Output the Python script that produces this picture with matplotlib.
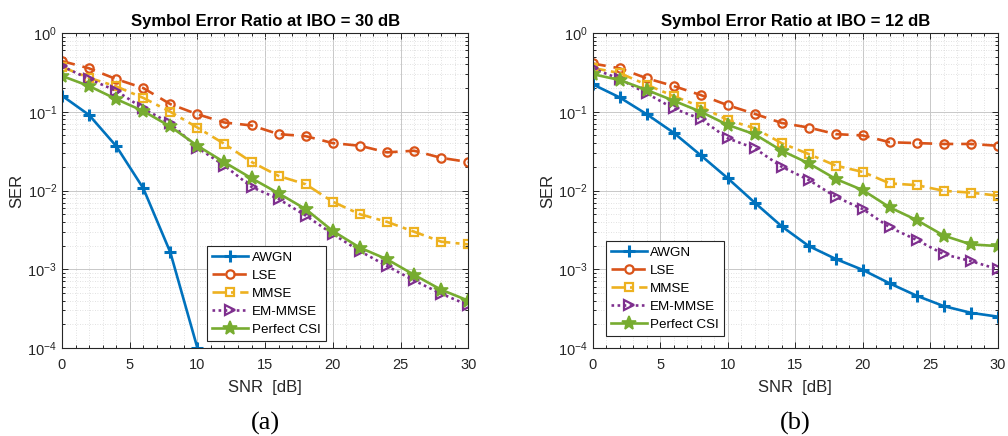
import matplotlib
import numpy as np

matplotlib.use("Agg")
import matplotlib.pyplot as plt
from matplotlib.ticker import LogLocator, NullFormatter, MultipleLocator

plt.rcParams["font.family"] = ["Liberation Sans", "DejaVu Sans"]
plt.rcParams["mathtext.fontset"] = "custom"
plt.rcParams["mathtext.rm"] = "Liberation Sans"
plt.rcParams["mathtext.it"] = "Liberation Sans:italic"

snr = np.arange(0, 31, 2)
labels = ["AWGN", "LSE", "MMSE", "EM-MMSE", "Perfect CSI"]

# IBO = 30 dB
awgn_30 = [0.16, 0.091, 0.0367, 0.0107, 0.00164, 1.0e-4] + [np.nan] * 10
lse_30 = [0.44, 0.356, 0.26, 0.20, 0.125, 0.093, 0.073, 0.067, 0.052, 0.049,
          0.040, 0.037, 0.0305, 0.032, 0.026, 0.023]
mmse_30 = [0.37, 0.27, 0.21, 0.15, 0.10, 0.063, 0.039, 0.023, 0.0153, 0.012,
           0.0072, 0.0050, 0.0040, 0.0030, 0.00224, 0.00207]
em_30 = [0.38, 0.26, 0.185, 0.11, 0.071, 0.035, 0.0207, 0.0111, 0.0078, 0.0048,
         0.0028, 0.0017, 0.0011, 0.00072, 0.00049, 0.00035]
csi_30 = [0.285, 0.212, 0.145, 0.102, 0.065, 0.037, 0.0228, 0.0143, 0.0092, 0.0058,
          0.00306, 0.00188, 0.00134, 0.00085, 0.00055, 0.0004]

# IBO = 12 dB
awgn_12 = [0.223, 0.152, 0.093, 0.054, 0.028, 0.0143, 0.0070, 0.0035, 0.00197, 0.00135,
           0.00098, 0.00066, 0.00046, 0.00034, 0.00028, 0.00025]
lse_12 = [0.41, 0.356, 0.266, 0.212, 0.163, 0.121, 0.094, 0.072, 0.063, 0.052,
          0.050, 0.041, 0.040, 0.039, 0.039, 0.037]
mmse_12 = [0.36, 0.31, 0.22, 0.158, 0.116, 0.0785, 0.0617, 0.0398, 0.029, 0.0207,
           0.0172, 0.0123, 0.0117, 0.0099, 0.0094, 0.0086]
em_12 = [0.356, 0.26, 0.171, 0.11, 0.081, 0.046, 0.0343, 0.020, 0.0136, 0.0083,
         0.0058, 0.0034, 0.00235, 0.00155, 0.00127, 0.0010]
csi_12 = [0.30, 0.253, 0.189, 0.138, 0.10, 0.068, 0.0517, 0.032, 0.0221, 0.014,
          0.0101, 0.0061, 0.0042, 0.00267, 0.00207, 0.00197]

colors = ["#0072BD", "#D95319", "#EDB120", "#7E2F8E", "#77AC30"]
styles = [
    dict(ls="-", marker="+", ms=9, mew=2.2),
    dict(ls=(0, (5, 3)), marker="o", ms=6, mew=1.6, mfc="none"),
    dict(ls=(0, (5, 2, 1.5, 2)), marker="s", ms=5.5, mew=1.6, mfc="none"),
    dict(ls=(0, (1, 1.3)), marker=">", ms=6.5, mew=1.6, mfc="none"),
    dict(ls="-", marker="*", ms=10, mew=1.2),
]


def draw(ax, series, title):
    for vals, lab, c, st in zip(series, labels, colors, styles):
        ax.plot(snr, vals, color=c, lw=1.9, label=lab, **st)
    ax.set_yscale("log")
    ax.set_xlim(0, 30)
    ax.set_ylim(1e-4, 1)
    ax.xaxis.set_major_locator(MultipleLocator(5))
    ax.xaxis.set_minor_locator(MultipleLocator(1))
    ax.yaxis.set_major_locator(LogLocator(base=10, numticks=10))
    ax.yaxis.set_minor_locator(LogLocator(base=10, subs=np.arange(2, 10), numticks=20))
    ax.yaxis.set_minor_formatter(NullFormatter())
    ax.grid(True, which="major", color="#c8c8c8", lw=0.7)
    ax.grid(True, which="minor", color="#d8d8d8", lw=0.6, ls=(0, (1, 2)))
    ax.set_axisbelow(True)
    ax.tick_params(which="both", direction="in", top=True, right=True,
                   labelsize=10.5, colors="#262626", width=0.7)
    ax.tick_params(axis="x", which="major", pad=7)
    ax.tick_params(which="major", length=4)
    ax.tick_params(which="minor", length=2)
    for s in ax.spines.values():
        s.set_color("#262626")
        s.set_linewidth(0.8)
    ax.set_title(title, fontsize=12, fontweight="bold", pad=5)
    ax.set_xlabel("SNR  [dB]", fontsize=12, color="#262626", labelpad=6)
    ax.set_ylabel("SER", fontsize=12, color="#262626", labelpad=2)


fig = plt.figure(figsize=(10.08, 4.36), dpi=100)
ax1 = fig.add_axes([0.0615, 0.2018, 0.403, 0.7225])
ax2 = fig.add_axes([0.588, 0.2018, 0.402, 0.7225])

draw(ax1, [awgn_30, lse_30, mmse_30, em_30, csi_30], "Symbol Error Ratio at IBO = 30 dB")
draw(ax2, [awgn_12, lse_12, mmse_12, em_12, csi_12], "Symbol Error Ratio at IBO = 12 dB")

for ax, loc in [(ax1, (0.357, 0.022)), (ax2, (0.032, 0.038))]:
    leg = ax.legend(loc="lower left", bbox_to_anchor=loc, fontsize=9.6,
                    fancybox=False, framealpha=1, edgecolor="#262626",
                    handlelength=2.7, borderpad=0.4, labelspacing=0.42,
                    handletextpad=0.25, borderaxespad=0)
    leg.get_frame().set_linewidth(0.8)

fig.text(0.263, 0.015, "(a)", fontsize=19, family="Liberation Serif", ha="center")
fig.text(0.789, 0.015, "(b)", fontsize=19, family="Liberation Serif", ha="center")

fig.savefig("out.png", dpi=100)
plt.close(fig)
